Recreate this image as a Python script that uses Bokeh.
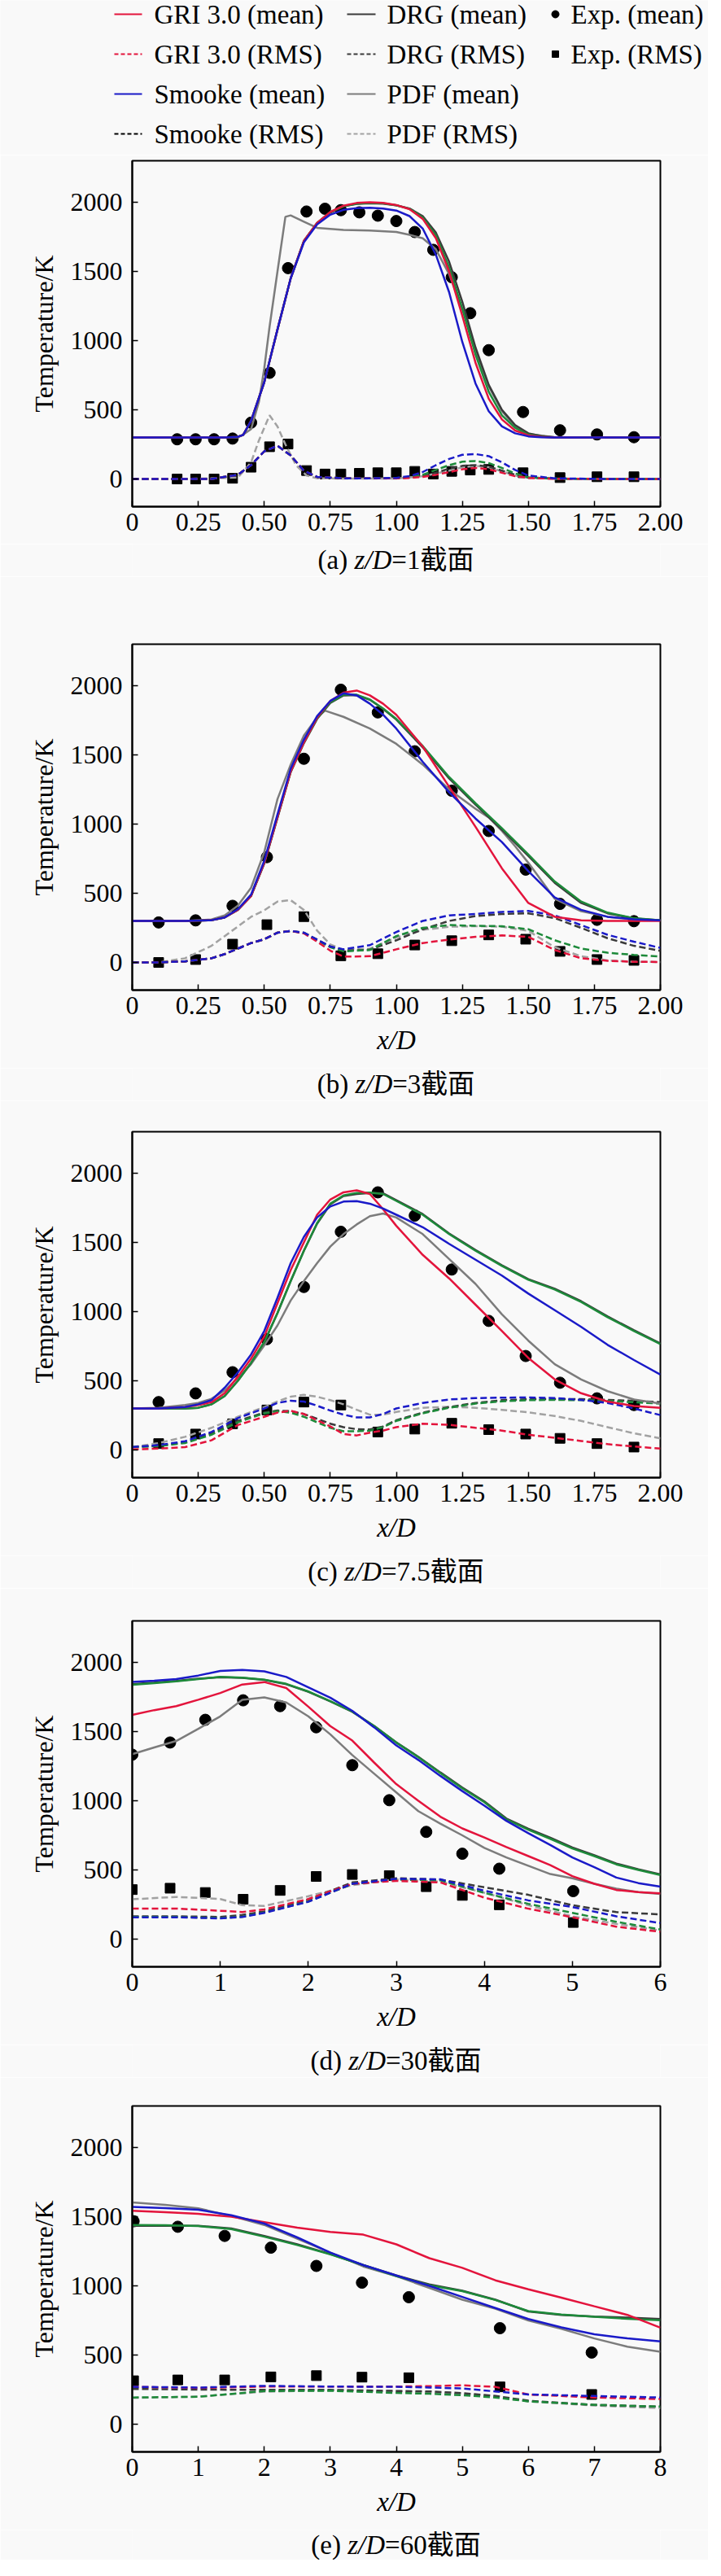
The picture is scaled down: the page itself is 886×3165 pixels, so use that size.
import math
from bokeh.plotting import figure
from bokeh.models import Range1d, FixedTicker, CustomJSTickFormatter
from bokeh.layouts import column
from bokeh.embed import file_html
from bokeh.resources import INLINE
from bokeh.core.properties import value

# ---------------- data ----------------
# Panel (a) z/D=1
a_exp_x = [0.17, 0.24, 0.31, 0.38, 0.45, 0.52, 0.59, 0.66, 0.73, 0.79, 0.86, 0.93, 1.00, 1.07, 1.14, 1.21, 1.28, 1.35, 1.48, 1.62, 1.76, 1.90]
a_exp_mean = [287, 287, 287, 292, 407, 767, 1524, 1933, 1953, 1943, 1927, 1903, 1864, 1785, 1656, 1458, 1198, 931, 484, 352, 322, 302]
a_exp_rms = [0, 0, 0, 5, 85, 233, 253, 61, 36, 36, 41, 45, 45, 55, 36, 55, 65, 69, 45, 10, 16, 16]
a_mx = [0, 0.1, 0.2, 0.3, 0.35, 0.4, 0.42, 0.45, 0.5, 0.55, 0.6, 0.65, 0.7, 0.75, 0.8, 0.85, 0.9, 0.95, 1.0, 1.05, 1.1, 1.15, 1.2, 1.25, 1.3, 1.35, 1.4, 1.45, 1.5, 1.55, 1.6, 1.7, 1.8, 1.9, 2.0]
a_gri = [300, 300, 300, 300, 300, 305, 318, 420, 700, 1080, 1450, 1720, 1850, 1930, 1975, 1995, 2000, 1995, 1980, 1950, 1880, 1740, 1500, 1180, 840, 580, 430, 350, 315, 305, 300, 300, 300, 300, 300]
a_smooke = [300, 300, 300, 300, 300, 305, 318, 420, 700, 1080, 1450, 1710, 1840, 1910, 1945, 1958, 1960, 1955, 1940, 1900, 1810, 1620, 1350, 990, 690, 490, 380, 330, 308, 302, 300, 300, 300, 300, 300]
a_drg = [300, 300, 300, 300, 300, 305, 318, 420, 700, 1080, 1450, 1720, 1850, 1925, 1970, 1988, 1992, 1990, 1978, 1955, 1900, 1780, 1570, 1280, 950, 680, 500, 390, 330, 310, 302, 300, 300, 300, 300]
a_green = [300, 300, 300, 300, 300, 305, 318, 420, 700, 1080, 1450, 1720, 1850, 1930, 1972, 1990, 1996, 1992, 1978, 1952, 1890, 1760, 1530, 1230, 900, 630, 460, 370, 320, 306, 300, 300, 300, 300, 300]
a_px = [0, 0.2, 0.4, 0.42, 0.45, 0.48, 0.5, 0.52, 0.55, 0.58, 0.6, 0.65, 0.7, 0.8, 0.9, 1.0, 1.05, 1.1, 1.15, 1.2, 1.25, 1.3, 1.35, 1.4, 1.45, 1.5, 1.6, 1.8, 2.0]
a_pdf = [300, 300, 300, 320, 360, 560, 800, 1100, 1500, 1895, 1905, 1860, 1815, 1800, 1795, 1785, 1765, 1740, 1660, 1480, 1230, 930, 670, 490, 380, 325, 302, 300, 300]
a_rx = [0, 0.1, 0.2, 0.3, 0.4, 0.45, 0.5, 0.55, 0.6, 0.65, 0.7, 0.8, 0.9, 1.0, 1.05, 1.1, 1.15, 1.2, 1.25, 1.3, 1.35, 1.4, 1.45, 1.5, 1.6, 1.8, 2.0]
a_drg_r = [0, 0, 0, 0, 30, 100, 200, 240, 170, 60, 15, 5, 5, 5, 10, 20, 45, 75, 95, 100, 90, 60, 30, 10, 2, 0, 0]
a_gri_r = [0, 0, 0, 0, 30, 100, 200, 240, 170, 60, 15, 5, 5, 5, 8, 15, 30, 50, 70, 80, 70, 45, 20, 8, 2, 0, 0]
a_smooke_r = [0, 0, 0, 0, 30, 100, 200, 240, 170, 60, 15, 5, 5, 8, 20, 50, 100, 145, 175, 180, 165, 120, 65, 25, 5, 0, 0]
a_green_r = [0, 0, 0, 0, 30, 100, 200, 240, 170, 60, 15, 5, 5, 6, 12, 30, 65, 100, 125, 130, 115, 80, 40, 12, 3, 0, 0]
a_prx = [0, 0.2, 0.4, 0.45, 0.48, 0.52, 0.55, 0.58, 0.62, 0.66, 0.7, 0.8, 0.9, 1.0, 1.1, 1.2, 1.25, 1.3, 1.35, 1.4, 1.45, 1.5, 1.6, 2.0]
a_pdf_r = [0, 0, 10, 120, 280, 460, 380, 250, 100, 25, 5, 3, 3, 3, 20, 60, 85, 95, 85, 55, 25, 8, 2, 0]

# Panel (b) z/D=3
b_exp_x = [0.10, 0.24, 0.38, 0.51, 0.65, 0.79, 0.93, 1.07, 1.21, 1.35, 1.49, 1.62, 1.76, 1.90]
b_exp_mean = [289, 304, 409, 761, 1472, 1971, 1807, 1526, 1241, 950, 671, 423, 308, 298]
b_exp_rms = [0, 21, 132, 273, 331, 48, 63, 126, 157, 199, 168, 80, 21, 15]
b_mx = [0, 0.1, 0.2, 0.3, 0.35, 0.4, 0.45, 0.5, 0.55, 0.6, 0.65, 0.7, 0.75, 0.8, 0.85, 0.9, 0.95, 1.0, 1.1, 1.2, 1.3, 1.4, 1.5, 1.6, 1.7, 1.8, 1.9, 2.0]
b_gri = [300, 300, 300, 305, 325, 380, 480, 720, 1050, 1380, 1590, 1770, 1890, 1950, 1965, 1930, 1870, 1790, 1560, 1270, 980, 680, 430, 330, 305, 300, 300, 300]
b_smooke = [300, 300, 300, 305, 325, 385, 490, 735, 1070, 1400, 1610, 1780, 1890, 1945, 1930, 1870, 1790, 1690, 1450, 1230, 1040, 870, 660, 470, 380, 330, 312, 305]
b_green = [300, 300, 300, 305, 325, 380, 480, 720, 1050, 1380, 1590, 1765, 1880, 1935, 1935, 1900, 1835, 1760, 1565, 1340, 1150, 970, 780, 585, 440, 360, 320, 305]
b_drg = [300, 300, 300, 305, 325, 380, 480, 715, 1045, 1375, 1585, 1760, 1875, 1930, 1932, 1898, 1832, 1755, 1555, 1330, 1140, 960, 770, 575, 430, 355, 318, 305]
b_px = [0, 0.1, 0.2, 0.3, 0.35, 0.4, 0.45, 0.5, 0.55, 0.6, 0.65, 0.7, 0.73, 0.8, 0.9, 1.0, 1.1, 1.2, 1.3, 1.35, 1.4, 1.45, 1.5, 1.6, 1.7, 1.8, 1.9, 2.0]
b_pdf = [300, 300, 300, 310, 340, 410, 540, 797, 1180, 1430, 1640, 1770, 1820, 1775, 1690, 1580, 1430, 1250, 1110, 1048, 950, 840, 720, 460, 370, 330, 310, 305]
b_rx = [0, 0.1, 0.2, 0.3, 0.35, 0.4, 0.45, 0.5, 0.55, 0.6, 0.65, 0.7, 0.75, 0.8, 0.9, 1.0, 1.1, 1.2, 1.3, 1.4, 1.5, 1.6, 1.7, 1.8, 1.9, 2.0]
b_pdf_r = [0, 0, 30, 120, 190, 260, 330, 377, 440, 450, 380, 230, 130, 90, 100, 180, 235, 258, 262, 258, 228, 110, 45, 15, 5, 3]
b_drg_r = [0, 0, 8, 30, 60, 100, 140, 168, 215, 228, 215, 165, 115, 85, 92, 160, 240, 300, 335, 350, 355, 320, 250, 175, 120, 84]
b_smooke_r = [0, 0, 8, 30, 60, 100, 140, 168, 215, 228, 215, 165, 115, 95, 125, 220, 300, 340, 350, 365, 372, 340, 270, 200, 150, 105]
b_green_r = [0, 0, 8, 30, 60, 100, 140, 168, 215, 228, 212, 160, 110, 80, 90, 190, 250, 270, 265, 262, 240, 160, 100, 70, 55, 42]
b_gri_r = [0, 0, 8, 30, 60, 100, 140, 168, 215, 228, 210, 150, 85, 42, 45, 95, 140, 165, 185, 195, 185, 90, 30, 12, 5, 3]

# Panel (c) z/D=7.5
c_exp_x = [0.10, 0.24, 0.38, 0.51, 0.65, 0.79, 0.93, 1.07, 1.21, 1.35, 1.49, 1.62, 1.76, 1.90]
c_exp_mean = [346, 409, 562, 801, 1178, 1577, 1862, 1694, 1304, 933, 679, 486, 373, 325]
c_exp_rms = [46, 115, 189, 289, 346, 325, 130, 151, 193, 147, 115, 84, 46, 21]
c_mx = [0, 0.1, 0.2, 0.25, 0.3, 0.35, 0.4, 0.45, 0.5, 0.55, 0.6, 0.65, 0.7, 0.75, 0.8, 0.85, 0.9, 0.95, 1.0, 1.1, 1.2, 1.3, 1.4, 1.5, 1.6, 1.7, 1.8, 1.9, 2.0]
c_gri = [300, 300, 310, 325, 345, 410, 530, 660, 820, 1060, 1300, 1500, 1700, 1810, 1862, 1876, 1850, 1740, 1620, 1410, 1240, 1050, 860, 665, 510, 410, 350, 318, 305]
c_smooke = [300, 300, 310, 330, 360, 450, 560, 690, 860, 1100, 1350, 1540, 1680, 1760, 1795, 1798, 1780, 1745, 1700, 1610, 1490, 1375, 1260, 1130, 1010, 890, 760, 650, 545]
c_green = [300, 300, 300, 305, 330, 390, 500, 630, 780, 990, 1220, 1440, 1640, 1780, 1840, 1858, 1860, 1850, 1800, 1700, 1560, 1440, 1330, 1230, 1160, 1070, 960, 860, 765]
c_drg = [300, 300, 300, 305, 330, 390, 500, 630, 780, 990, 1220, 1440, 1635, 1775, 1835, 1850, 1858, 1855, 1805, 1705, 1565, 1445, 1335, 1235, 1165, 1075, 965, 865, 770]
c_pdf = [300, 305, 325, 340, 370, 430, 520, 620, 755, 900, 1080, 1220, 1350, 1470, 1560, 1630, 1690, 1709, 1680, 1560, 1380, 1200, 980, 790, 620, 510, 425, 365, 335]
c_rx = [0, 0.1, 0.2, 0.3, 0.4, 0.5, 0.55, 0.6, 0.65, 0.7, 0.75, 0.8, 0.85, 0.9, 0.95, 1.0, 1.1, 1.2, 1.3, 1.4, 1.5, 1.6, 1.7, 1.8, 1.9, 2.0]
c_pdf_r = [21, 50, 95, 160, 240, 310, 350, 385, 398, 385, 360, 330, 290, 255, 255, 275, 305, 312, 305, 290, 272, 245, 210, 165, 120, 84]
c_smooke_r = [21, 35, 63, 130, 230, 300, 340, 356, 350, 320, 285, 255, 235, 235, 260, 300, 340, 365, 375, 378, 380, 375, 362, 340, 300, 252]
c_drg_r = [21, 30, 55, 120, 210, 270, 285, 280, 260, 225, 190, 165, 150, 148, 170, 215, 270, 310, 340, 360, 367, 368, 367, 362, 355, 346]
c_green_r = [21, 28, 50, 110, 200, 265, 280, 270, 240, 200, 160, 135, 135, 140, 165, 210, 265, 305, 335, 352, 360, 362, 360, 355, 345, 335]
c_gri_r = [4, 10, 21, 70, 180, 240, 270, 283, 260, 215, 170, 115, 105, 125, 140, 165, 190, 182, 160, 140, 110, 88, 65, 42, 25, 10]

# Panel (d) z/D=30
d_exp_x = [0.0, 0.43, 0.83, 1.26, 1.68, 2.09, 2.50, 2.92, 3.34, 3.75, 4.17, 5.01]
d_exp_mean = [1333, 1421, 1585, 1726, 1684, 1531, 1257, 1004, 775, 617, 509, 347]
d_exp_rms = [358, 368, 337, 288, 352, 453, 467, 459, 379, 316, 248, 120]
d_mx = [0, 0.25, 0.5, 0.75, 1.0, 1.25, 1.5, 1.75, 2.0, 2.25, 2.5, 2.75, 3.0, 3.25, 3.5, 3.75, 4.0, 4.25, 4.5, 4.75, 5.0, 5.25, 5.5, 5.75, 6.0]
d_smooke = [1859, 1868, 1880, 1905, 1938, 1945, 1935, 1895, 1820, 1745, 1650, 1530, 1400, 1295, 1180, 1070, 965, 855, 765, 680, 590, 520, 445, 405, 379]
d_green = [1838, 1850, 1863, 1880, 1895, 1890, 1875, 1845, 1790, 1720, 1645, 1540, 1420, 1315, 1200, 1090, 990, 865, 790, 725, 655, 600, 540, 500, 463]
d_drg = [1843, 1854, 1866, 1882, 1893, 1888, 1873, 1842, 1788, 1718, 1643, 1540, 1422, 1318, 1205, 1095, 995, 872, 798, 733, 662, 606, 546, 505, 468]
d_gri = [1621, 1655, 1684, 1730, 1779, 1840, 1858, 1815, 1680, 1540, 1435, 1275, 1120, 1000, 885, 800, 735, 665, 600, 535, 455, 400, 355, 340, 331]
d_pdf = [1337, 1385, 1432, 1520, 1610, 1730, 1747, 1710, 1610, 1480, 1330, 1195, 1060, 925, 835, 750, 660, 590, 530, 470, 440, 400, 365, 340, 326]
d_rx = [0, 0.5, 1.0, 1.25, 1.5, 2.0, 2.5, 3.0, 3.5, 4.0, 4.5, 5.0, 5.5, 6.0]
d_pdf_r = [288, 305, 290, 245, 240, 310, 390, 432, 415, 335, 245, 165, 110, 63]
d_gri_r = [221, 221, 205, 196, 215, 290, 400, 421, 410, 300, 220, 158, 90, 53]
d_smooke_r = [158, 158, 150, 160, 190, 270, 400, 436, 432, 350, 280, 232, 165, 116]
d_green_r = [160, 160, 152, 162, 192, 272, 398, 430, 425, 335, 255, 190, 125, 70]
d_drg_r = [165, 165, 160, 175, 200, 285, 410, 440, 430, 375, 320, 245, 195, 179]

# Panel (e) z/D=60
e_exp_x = [0.02, 0.69, 1.40, 2.10, 2.79, 3.48, 4.19, 5.57, 6.96]
e_exp_mean = [1467, 1427, 1361, 1276, 1144, 1023, 918, 694, 518]
e_exp_rms = [314, 320, 320, 342, 351, 340, 336, 270, 215]
e_mx = [0, 0.5, 1, 1.5, 2, 2.5, 3, 3.5, 4, 4.5, 5, 5.5, 6, 6.5, 7, 7.5, 8]
e_pdf = [1603, 1585, 1560, 1505, 1440, 1340, 1240, 1140, 1070, 985, 900, 835, 750, 690, 620, 560, 523]
e_smooke = [1570, 1562, 1550, 1510, 1450, 1350, 1240, 1150, 1075, 1000, 920, 840, 760, 700, 650, 620, 599]
e_gri = [1543, 1533, 1520, 1500, 1460, 1420, 1390, 1370, 1300, 1200, 1130, 1040, 975, 915, 852, 790, 698]
e_drg = [1434, 1434, 1434, 1415, 1360, 1300, 1230, 1150, 1075, 1010, 965, 900, 815, 790, 778, 770, 760]
e_green = [1440, 1438, 1432, 1410, 1355, 1295, 1228, 1150, 1070, 1005, 962, 898, 818, 792, 776, 762, 752]
e_rx = [0, 1, 2, 3, 4, 4.5, 5, 5.5, 6, 7, 8]
e_gri_r = [270, 262, 272, 272, 272, 275, 281, 270, 215, 193, 182]
e_smooke_r = [270, 265, 277, 272, 270, 265, 259, 237, 215, 204, 193]
e_drg_r = [255, 250, 248, 248, 240, 237, 225, 204, 170, 140, 127]
e_green_r = [193, 198, 240, 242, 226, 220, 210, 193, 165, 140, 127]
e_pdf_r = [190, 200, 235, 245, 240, 230, 215, 200, 165, 135, 116]

y_ticks = [0, 500, 1000, 1500, 2000]
x_ticks_small = [0, 0.25, 0.5, 0.75, 1.0, 1.25, 1.5, 1.75, 2.0]
x_ticks_d = [0, 1, 2, 3, 4, 5, 6]
x_ticks_e = [0, 1, 2, 3, 4, 5, 6, 7, 8]

legend_col1 = ["GRI 3.0 (mean)", "GRI 3.0 (RMS)", "Smooke (mean)", "Smooke (RMS)"]
legend_col2 = ["DRG (mean)", "DRG (RMS)", "PDF (mean)", "PDF (RMS)"]
legend_col3 = ["Exp. (mean)", "Exp. (RMS)"]

# ---------------- style ----------------
SERIF = "Liberation Serif"
CAPFONT = "Liberation Serif, Noto Sans CJK SC"
BG = "#f9f9f9"
RED = "#e3143c"
BLUE = "#1a1ac8"
GREEN = "#1d8a3a"
DGRAY = "#3a3a3a"
GRAY = "#7c7c7c"
LGRAY = "#a2a2a2"
LW = 2.5
DASH = "8 4"
W = 870
FRAME_H = 425
FL, FR = 170, 819            # frame left / right on the page
BL, BR = FL - 8, 8 + W - FR  # borders


def bare(height, xr, yr, left=0, right=0):
    f = figure(width=W, height=height, x_range=xr, y_range=yr, output_backend="svg",
               toolbar_location=None, min_border_left=left, min_border_right=right,
               min_border_top=0, min_border_bottom=0, x_axis_type=None, y_axis_type=None)
    f.grid.visible = False
    f.outline_line_color = None
    f.background_fill_color = BG
    f.border_fill_color = BG
    return f


# ---------------- legend (own root, full-width frame) ----------------
LG_TOP, LG_BOT = 8, 198
lg = bare(LG_BOT - LG_TOP, Range1d(8, 8 + W), Range1d(LG_BOT, LG_TOP))
rows = [25, 74, 123, 172]
c1_colors = [RED, RED, BLUE, "black"]
c2_colors = [DGRAY, DGRAY, GRAY, LGRAY]
dashes = ["solid", "5 3", "solid", "5 3"]
for i in range(4):
    lg.line([148, 182], [rows[i], rows[i]], line_color=c1_colors[i], line_width=2, line_dash=dashes[i])
    lg.line([434, 469], [rows[i], rows[i]], line_color=c2_colors[i], line_width=2, line_dash=dashes[i])
TXT = dict(text_font=value(SERIF), text_font_size="33px", text_baseline="middle",
           text_align="left", text_color="black")
lg.text(x=[197] * 4, y=rows, text=legend_col1, **TXT)
lg.text(x=[483] * 4, y=rows, text=legend_col2, **TXT)
lg.text(x=[709] * 2, y=rows[:2], text=legend_col3, **TXT)
lg.scatter([690], [rows[0]], marker="circle", size=9, color="black")
lg.scatter([690], [rows[1]], marker="square", size=8, color="black")

# ---------------- caption strips ----------------
CW = {'(': 0.333, ')': 0.333, 'a': 0.444, 'b': 0.5, 'c': 0.444, 'd': 0.5, 'e': 0.444,
      ' ': 0.25, '=': 0.564, '.': 0.25}
IW = {'z': 0.389, '/': 0.278, 'D': 0.722}


def width_of(s, table, fs):
    w = 0.0
    for ch in s:
        if ch.isdigit():
            w += 0.5
        elif ch in table:
            w += table[ch]
        else:
            w += 1.0
    return w * fs


def caption_strip(top, bottom, cy, letter, num):
    f = bare(bottom - top, Range1d(FL, FR), Range1d(bottom, top), BL, BR)
    fs = 33
    parts = [("(%s) " % letter, "normal"), ("z/D", "italic"), ("=%s截面" % num, "normal")]
    widths = [width_of(t, IW if st == "italic" else CW, fs) for t, st in parts]
    x = 494 - sum(widths) / 2
    for (t, st), w in zip(parts, widths):
        f.text(x=[x], y=[cy], text=[t], text_font=value(CAPFONT), text_font_size="%dpx" % fs,
               text_font_style=st, text_baseline="middle", text_align="left", text_color="black")
        x += w
    return f


def make_panel(top, bottom, frame_top, xmax, xticks, fmt_code, xlabel):
    btop = frame_top - top
    bbot = bottom - (frame_top + FRAME_H)
    p = figure(width=W, height=bottom - top, x_range=Range1d(0, xmax), y_range=Range1d(-200, 2300),
               output_backend="svg", toolbar_location=None,
               min_border_left=BL, min_border_right=BR, min_border_top=btop, min_border_bottom=bbot)
    p.background_fill_color = BG
    p.border_fill_color = BG
    p.grid.visible = False
    p.outline_line_color = "black"
    p.outline_line_width = 2
    p.xaxis.ticker = FixedTicker(ticks=xticks)
    p.yaxis.ticker = FixedTicker(ticks=y_ticks)
    p.xaxis.formatter = CustomJSTickFormatter(code=fmt_code)
    for ax in (p.xaxis[0], p.yaxis[0]):
        ax.axis_line_width = 2
        ax.axis_line_color = "black"
        ax.major_tick_in = 7
        ax.major_tick_out = 0
        ax.major_tick_line_width = 1.5
        ax.major_tick_line_color = "black"
        ax.minor_tick_line_color = None
        ax.major_label_text_font = SERIF
        ax.major_label_text_font_size = "32px"
        ax.major_label_text_color = "black"
        ax.axis_label_text_font = SERIF
        ax.axis_label_text_color = "black"
    p.yaxis.major_label_standoff = 12
    p.xaxis.major_label_standoff = 8
    p.yaxis.axis_label = "Temperature/K"
    p.yaxis.axis_label_text_font_size = "32px"
    p.yaxis.axis_label_text_font_style = "normal"
    p.yaxis.axis_label_standoff = 12
    if xlabel:
        p.xaxis.axis_label = "x/D"
        p.xaxis.axis_label_text_font_size = "33px"
        p.xaxis.axis_label_text_font_style = "italic"
        p.xaxis.axis_label_standoff = 11
    return p


def draw(p, mx, px, rx, prx, gri, drg, green, smooke, pdf, gri_r, drg_r, green_r, smooke_r, pdf_r,
         ex, em, er):
    # experimental markers first: the model curves run over them, as in the original
    p.scatter(ex, em, marker="circle", size=14, color="black")
    p.scatter(ex, er, marker="square", size=12, color="black")
    p.line(prx, pdf_r, line_color=LGRAY, line_width=LW, line_dash=DASH)
    p.line(rx, drg_r, line_color=DGRAY, line_width=LW, line_dash=DASH)
    p.line(rx, green_r, line_color=GREEN, line_width=LW, line_dash=DASH)
    p.line(rx, gri_r, line_color=RED, line_width=LW, line_dash=DASH)
    p.line(rx, smooke_r, line_color=BLUE, line_width=LW, line_dash=DASH)
    p.line(px, pdf, line_color=GRAY, line_width=LW)
    p.line(mx, drg, line_color=DGRAY, line_width=LW)
    p.line(mx, green, line_color=GREEN, line_width=LW)
    p.line(mx, gri, line_color=RED, line_width=LW)
    p.line(mx, smooke, line_color=BLUE, line_width=LW)


FMT2 = "return tick == 0 ? '0' : tick.toFixed(2);"
FMT0 = "return tick.toFixed(0);"

pa = make_panel(198, 676, 205, 2.0, x_ticks_small, FMT2, False)
draw(pa, a_mx, a_px, a_rx, a_prx, a_gri, a_drg, a_green, a_smooke, a_pdf,
     a_gri_r, a_drg_r, a_green_r, a_smooke_r, a_pdf_r, a_exp_x, a_exp_mean, a_exp_rms)
ca = caption_strip(676, 716, 695, "a", "1")

pb = make_panel(716, 1320, 799, 2.0, x_ticks_small, FMT2, True)
draw(pb, b_mx, b_px, b_rx, b_rx, b_gri, b_drg, b_green, b_smooke, b_pdf,
     b_gri_r, b_drg_r, b_green_r, b_smooke_r, b_pdf_r, b_exp_x, b_exp_mean, b_exp_rms)
cb = caption_strip(1320, 1360, 1339, "b", "3")

pc = make_panel(1360, 1919, 1398, 2.0, x_ticks_small, FMT2, True)
draw(pc, c_mx, c_mx, c_rx, c_rx, c_gri, c_drg, c_green, c_smooke, c_pdf,
     c_gri_r, c_drg_r, c_green_r, c_smooke_r, c_pdf_r, c_exp_x, c_exp_mean, c_exp_rms)
cc = caption_strip(1919, 1959, 1938, "c", "7.5")

pd_ = make_panel(1959, 2520, 1999, 6.0, x_ticks_d, FMT0, True)
draw(pd_, d_mx, d_mx, d_rx, d_rx, d_gri, d_drg, d_green, d_smooke, d_pdf,
     d_gri_r, d_drg_r, d_green_r, d_smooke_r, d_pdf_r, d_exp_x, d_exp_mean, d_exp_rms)
cd = caption_strip(2520, 2560, 2539, "d", "30")

pe = make_panel(2560, 3116, 2595, 8.0, x_ticks_e, FMT0, True)
draw(pe, e_mx, e_mx, e_rx, e_rx, e_gri, e_drg, e_green, e_smooke, e_pdf,
     e_gri_r, e_drg_r, e_green_r, e_smooke_r, e_pdf_r, e_exp_x, e_exp_mean, e_exp_rms)
ce = caption_strip(3116, 3153, 3134, "e", "60")

body = column(pa, ca, pb, cb, pc, cc, pd_, cd, pe, ce, spacing=0)
open("out.html", "w").write(file_html([lg, body], INLINE))
